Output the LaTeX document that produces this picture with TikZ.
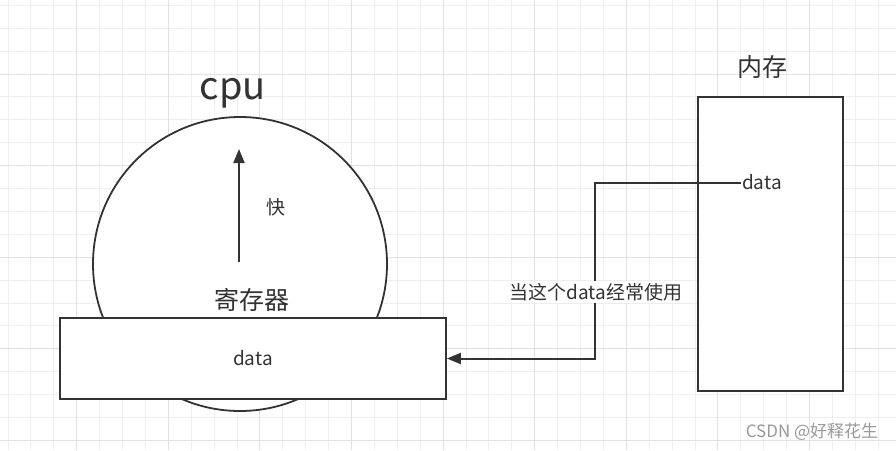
\documentclass[tikz,border=0pt]{standalone}
\usepackage{fontspec}
\setmainfont{Noto Sans CJK SC}
\usetikzlibrary{arrows.meta}
\definecolor{ink}{HTML}{333333}
\definecolor{gridminor}{HTML}{EEEEEE}
\definecolor{gridmajor}{HTML}{E2E2E2}
\definecolor{wm}{HTML}{9A9A9A}
\tikzset{
  shapeline/.style={draw=ink, line width=1.8pt, fill=white},
  txt/.style={text=ink, inner sep=1pt},
  conn/.style={draw=ink, line width=2pt, -{Triangle[length=14pt,width=11pt]}},
}
\begin{document}
\begin{tikzpicture}[x=1pt,y=-1pt]
\fill[white] (0,0) rectangle (896,450);
\useasboundingbox (0,0) rectangle (896,450);
% grid
\foreach \i in {0,...,39} {
  \pgfmathsetmacro{\xx}{8.0+\i*22.9}
  \draw[gridminor, line width=1pt] (\xx,0) -- (\xx,450);
}
\foreach \i in {0,...,19} {
  \pgfmathsetmacro{\yy}{5.3+\i*22.9}
  \draw[gridminor, line width=1pt] (0,\yy) -- (896,\yy);
}
\foreach \i in {0,...,9} {
  \pgfmathsetmacro{\xx}{76.7+(\i-1)*91.6}
  \draw[gridmajor, line width=1pt] (\xx,0) -- (\xx,450);
}
\foreach \i in {0,...,5} {
  \pgfmathsetmacro{\yy}{74.0+(\i-1)*91.6}
  \draw[gridmajor, line width=1pt] (0,\yy) -- (896,\yy);
}
% cpu circle
\node[shapeline, circle, minimum size=294pt, inner sep=0pt] (cpucirc) at (240,264) {};
\node[txt, font=\fontsize{38}{38}\selectfont] (cpulabel) at (233,93) {cpu};
% speed arrow
\coordinate (arrbot) at (239,262);
\coordinate (arrtop) at (239,149);
\draw[conn] (arrbot) -- (arrtop);
\node[txt, font=\fontsize{19}{19}\selectfont] (fast) at (276,207) {快};
\node[txt, font=\fontsize{25}{25}\selectfont] (reglabel) at (252,300) {寄存器};
% register rectangle
\node[shapeline, rectangle, minimum width=386pt, minimum height=81pt, inner sep=0pt,
      font=\fontsize{19}{19}\selectfont, text=ink] (reg) at (253,358.5) {data};
% memory
\node[shapeline, rectangle, minimum width=145pt, minimum height=294pt, inner sep=0pt] (mem) at (770.5,244) {};
\node[txt, font=\fontsize{25}{25}\selectfont] (memlabel) at (762,67) {内存};
\node[txt, font=\fontsize{19}{19}\selectfont, inner sep=1.5pt] (memdata) at (762,182) {data};
% connector
\coordinate (bend) at (595,183);
\draw[conn] (memdata.west |- bend) -- (bend) |- (reg.east);
\node[txt, fill=white, font=\fontsize{19}{19}\selectfont, inner sep=2pt] (usage) at (596,292) {当这个data经常使用};
% watermark
\node[text=wm, font=\fontsize{17}{17}\selectfont, inner sep=0pt] (wmark) at (812,432) {CSDN @好释花生};
\end{tikzpicture}
\end{document}
